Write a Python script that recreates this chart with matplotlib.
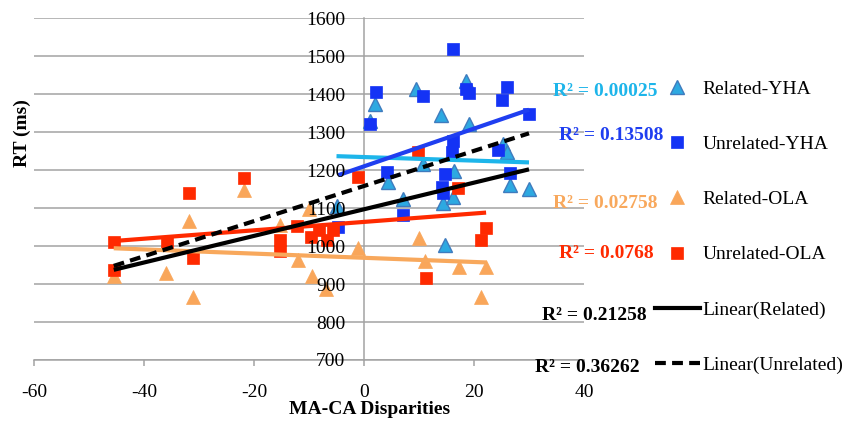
import numpy as np
import matplotlib
matplotlib.use("Agg")
import matplotlib.pyplot as plt
from matplotlib.lines import Line2D

# ---- data -------------------------------------------------------------
rel_yha_x = [-5, 1, 2, 4.3, 7.1, 9.5, 10.7, 14, 14.4, 14.7, 16.2, 16.4, 18.5, 19, 25.3, 26, 26.5, 30]
rel_yha_y = [1105, 1330, 1375, 1170, 1124, 1413, 1215, 1345, 1113, 1003, 1130, 1198, 1434, 1321, 1270, 1248, 1160, 1150]

unrel_yha_x = [-4.7, 1.1, 2.1, 4.2, 7.1, 10.8, 14.1, 14.4, 14.7, 16, 16.2, 16.2, 18.6, 19, 24.4, 25.1, 26, 26.5, 30]
unrel_yha_y = [1050, 1321, 1405, 1195, 1081, 1395, 1156, 1140, 1190, 1248, 1277, 1518, 1415, 1402, 1253, 1386, 1418, 1193, 1349]

rel_ola_x = [-45.5, -36, -31.8, -31.1, -21.8, -15.3, -12, -10, -9.5, -7, -1.1, 10, 11.1, 17.3, 21.3, 22.2]
rel_ola_y = [921, 930, 1066, 866, 1147, 1055, 963, 1097, 920, 886, 995, 1021, 961, 945, 866, 945]

unrel_ola_x = [-45.5, -45.5, -35.9, -31.8, -31.1, -21.8, -15.3, -15.3, -12.1, -9.7, -8.2, -6.7, -5.6, -1.1, 9.8, 11.3, 17.1, 21.3, 22.2]
unrel_ola_y = [1011, 937, 1009, 1140, 969, 1180, 1015, 988, 1052, 1024, 1042, 1016, 1042, 1182, 1247, 916, 1152, 1016, 1047]

series_names = ["Related-YHA", "Unrelated-YHA", "Related-OLA", "Unrelated-OLA"]
combined_names = ["Linear(Related)", "Linear(Unrelated)"]
r2_series = ["R² = 0.00025", "R² = 0.13508", "R² = 0.02758", "R² = 0.0768"]
r2_combined = ["R² = 0.21258", "R² = 0.36262"]

x_ticks = [-60, -40, -20, 0, 20, 40]
y_ticks = [700, 800, 900, 1000, 1100, 1200, 1300, 1400, 1500, 1600]

# ---- style ------------------------------------------------------------
plt.rcParams["font.family"] = ["Liberation Serif", "DejaVu Serif"]
plt.rcParams["axes.unicode_minus"] = False

W, H = 851, 424
fig = plt.figure(figsize=(W / 100, H / 100), dpi=100)


def fx(px):
    return px / W


def fy(py):
    return 1 - py / H


ax = fig.add_axes([fx(34), fy(360), 550 / W, 341.7 / H])
ax.set_xlim(x_ticks[0], x_ticks[-1])
ax.set_ylim(y_ticks[0], y_ticks[-1])

grid_col = "#A3A3A3"
for v in y_ticks:
    ax.axhline(v, color=grid_col, lw=1.1, zorder=0.5)

for s in ("top", "right"):
    ax.spines[s].set_visible(False)
ax.spines["left"].set_position(("data", 0))
ax.spines["left"].set_color(grid_col)
ax.spines["left"].set_linewidth(1.1)
ax.spines["left"].set_zorder(0.6)
ax.spines["bottom"].set_color(grid_col)
ax.spines["bottom"].set_linewidth(1.1)
ax.spines["bottom"].set_zorder(0.6)

ax.set_xticks(x_ticks)
ax.set_yticks(y_ticks)
ax.tick_params(axis="y", length=0, pad=13.5, labelsize=14)
ax.tick_params(axis="x", length=4.5, width=1.1, color=grid_col, direction="out", pad=13, labelsize=14)
ax.xaxis.set_zorder(5)
ax.yaxis.set_zorder(5)

# ---- series -----------------------------------------------------------
styles = [
    dict(marker="^", ms=10, mfc="#2DA9E1", mec="#3F7BBE", mew=1.0),
    dict(marker="s", ms=8.6, mfc="#1433F5", mec="#1433F5", mew=0.5),
    dict(marker="^", ms=10, mfc="#F9A65A", mec="#F9A65A", mew=0.5),
    dict(marker="s", ms=8.6, mfc="#FF2A00", mec="#FF2A00", mew=0.5),
]
trend_cols = ["#1DB5EA", "#1F3EF0", "#F8A85C", "#FF2A00"]

xs = [rel_yha_x, unrel_yha_x, rel_ola_x, unrel_ola_x]
ys = [rel_yha_y, unrel_yha_y, rel_ola_y, unrel_ola_y]

for x, y, st in zip(xs, ys, styles):
    ax.plot(x, y, ls="none", zorder=3, **st)


def trend(ax, x, y, **kw):
    x = np.asarray(x, float)
    y = np.asarray(y, float)
    k, b = np.polyfit(x, y, 1)
    xx = np.array([x.min(), x.max()])
    ax.plot(xx, k * xx + b, solid_capstyle="butt", zorder=4, **kw)


for x, y, c in zip(xs, ys, trend_cols):
    trend(ax, x, y, color=c, lw=3)

trend(ax, rel_yha_x + rel_ola_x, rel_yha_y + rel_ola_y, color="black", lw=3)
trend(ax, unrel_yha_x + unrel_ola_x, unrel_yha_y + unrel_ola_y, color="black", lw=3,
      dashes=(2.6, 1.5))

# ---- labels -----------------------------------------------------------
fig.text(fx(22), fy(133), "RT (ms)", rotation=90, fontsize=14, fontweight="bold",
         ha="center", va="center")
fig.text(fx(370), fy(410), "MA-CA Disparities", fontsize=14, fontweight="bold",
         ha="center", va="center")

r2_pos = [(553, 92), (559, 136), (553, 203), (559, 254), (542, 316), (535, 368)]
r2_cols = trend_cols + ["black", "black"]
for (px, py), s, c in zip(r2_pos, r2_series + r2_combined, r2_cols):
    fig.text(fx(px), fy(py), s, color=c, fontsize=14, fontweight="bold",
             ha="left", va="center", zorder=6)

# ---- legend -----------------------------------------------------------
handles = [Line2D([], [], ls="none", **st) for st in styles]
handles += [Line2D([], [], color="black", lw=3),
            Line2D([], [], color="black", lw=3, dashes=(2.6, 1.5))]
fig.legend(handles, series_names + combined_names, loc="center left",
           bbox_to_anchor=(fx(655), fy(227)), frameon=False, fontsize=14,
           handlelength=2.3, handletextpad=0.15, labelspacing=1.93,
           borderpad=0, borderaxespad=0)

fig.savefig("out.png", dpi=100)
